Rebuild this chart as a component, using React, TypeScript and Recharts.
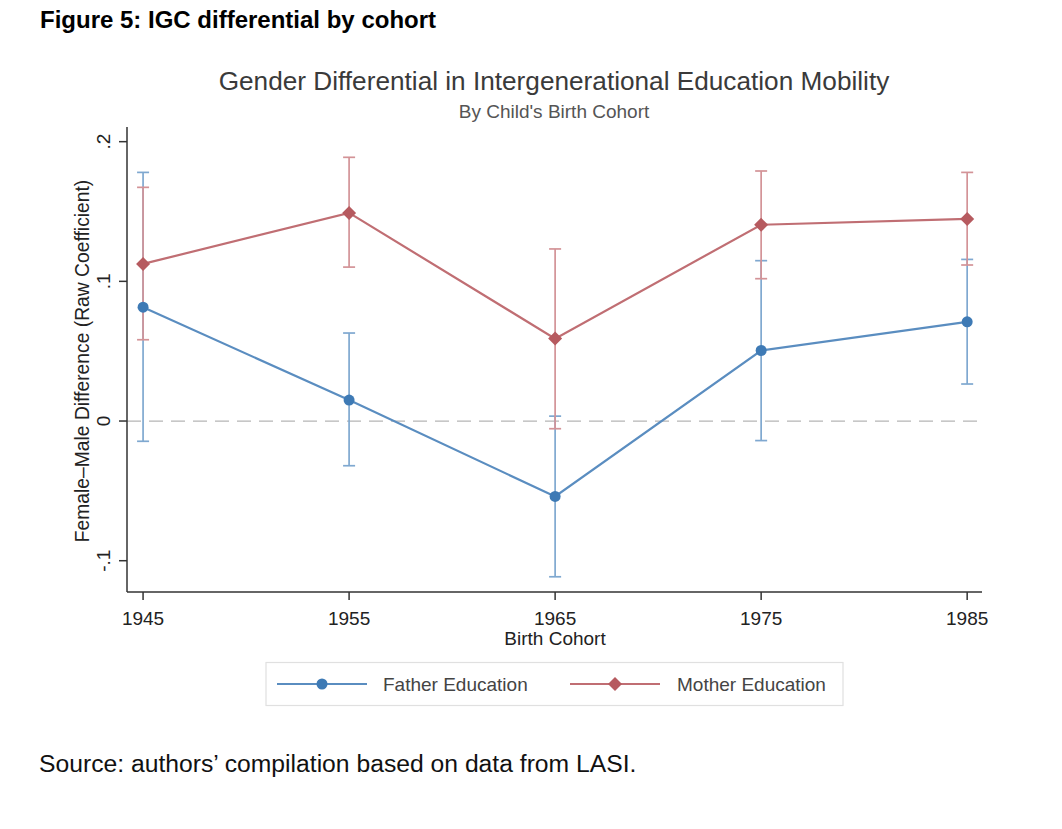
import React from 'react';
import { LineChart, Line, XAxis, YAxis, ErrorBar, ReferenceLine } from 'recharts';

const cohorts = [1945, 1955, 1965, 1975, 1985];
const fatherCoef = [0.0815, 0.015, -0.054, 0.0505, 0.071];
const fatherLow = [-0.0145, -0.032, -0.1115, -0.014, 0.0265];
const fatherHigh = [0.178, 0.063, 0.0035, 0.1148, 0.1157];
const motherCoef = [0.1125, 0.149, 0.059, 0.1405, 0.1447];
const motherLow = [0.0582, 0.1102, -0.0055, 0.1019, 0.1117];
const motherHigh = [0.1673, 0.1888, 0.1232, 0.179, 0.178];
const yTicks = [-0.1, 0, 0.1, 0.2];
const yTickLabels = ['-.1', '0', '.1', '.2'];
const xTickLabels = ['1945', '1955', '1965', '1975', '1985'];
const seriesNames = ['Father Education', 'Mother Education'];

const FONT = '"Liberation Sans", Arial, Helvetica, sans-serif';
const FATHER_LINE = '#5a8dc0';
const FATHER_MARK = '#3e7ab5';
const FATHER_ERR = '#7fa8d0';
const MOTHER_LINE = '#c06e73';
const MOTHER_MARK = '#b65a5f';
const MOTHER_ERR = '#d39397';

const data = cohorts.map((c, i) => ({
  cohort: c,
  father: fatherCoef[i],
  fatherErr: [fatherCoef[i] - fatherLow[i], fatherHigh[i] - fatherCoef[i]],
  mother: motherCoef[i],
  motherErr: [motherCoef[i] - motherLow[i], motherHigh[i] - motherCoef[i]],
}));

const diamondPath = (cx: number, cy: number, r: number) =>
  `M${cx},${cy - r} L${cx + r},${cy} L${cx},${cy + r} L${cx - r},${cy} Z`;

const YTick = (props: any) => {
  const { x, y, payload } = props;
  const idx = yTicks.indexOf(payload.value);
  const label = idx >= 0 ? yTickLabels[idx] : String(payload.value);
  return (
    <text
      x={x}
      y={y}
      transform={`rotate(-90, ${x}, ${y})`}
      textAnchor="middle"
      fontSize={19}
      fontFamily={FONT}
      fill="#222"
    >
      {label}
    </text>
  );
};

const XTick = (props: any) => {
  const { x, y, payload } = props;
  const idx = cohorts.indexOf(payload.value);
  const label = idx >= 0 ? xTickLabels[idx] : String(payload.value);
  return (
    <text x={x} y={y} dy="0.71em" textAnchor="middle" fontSize={19} fontFamily={FONT} fill="#222">
      {label}
    </text>
  );
};

const MotherDot = (props: any) => {
  const { cx, cy, index } = props;
  if (cx == null || cy == null) return <g key={`md-${index}`} />;
  return <path key={`md-${index}`} d={diamondPath(cx, cy, 7)} fill={MOTHER_MARK} />;
};

const FatherDot = (props: any) => {
  const { cx, cy, index } = props;
  if (cx == null || cy == null) return <g key={`fd-${index}`} />;
  return <circle key={`fd-${index}`} cx={cx} cy={cy} r={5.5} fill={FATHER_MARK} />;
};

export default function App() {
  return (
    <div style={{ position: 'absolute', left: 0, top: 0, width: 1062, height: 829, background: '#fff', fontFamily: FONT }}>
      <LineChart
        width={1062}
        height={829}
        data={data}
        margin={{ top: 127, right: 80, bottom: 177, left: 67 }}
      >
        <XAxis
          dataKey="cohort"
          type="number"
          domain={[1944.22, 1985.72]}
          ticks={cohorts}
          allowDataOverflow
          height={60}
          tickSize={8}
          tickMargin={12}
          tick={<XTick />}
          stroke="#333"
          strokeWidth={1.5}
          tickLine={{ stroke: '#333', strokeWidth: 1.5 }}
        />
        <YAxis
          type="number"
          domain={[-0.1224, 0.2105]}
          ticks={yTicks}
          allowDataOverflow
          width={60}
          tickSize={8}
          tickMargin={9}
          tick={<YTick />}
          stroke="#333"
          strokeWidth={1.5}
          tickLine={{ stroke: '#333', strokeWidth: 1.5 }}
        />
        <ReferenceLine y={0} stroke="#b5b5b5" strokeWidth={1.3} strokeDasharray="14 8" />
        <Line
          dataKey="father"
          name={seriesNames[0]}
          stroke={FATHER_LINE}
          strokeWidth={2.2}
          dot={<FatherDot />}
          activeDot={false}
          isAnimationActive={false}
        >
          <ErrorBar dataKey="fatherErr" direction="y" width={6} stroke={FATHER_ERR} strokeWidth={1.7} isAnimationActive={false} />
        </Line>
        <Line
          dataKey="mother"
          name={seriesNames[1]}
          stroke={MOTHER_LINE}
          strokeWidth={2.2}
          dot={<MotherDot />}
          activeDot={false}
          isAnimationActive={false}
        >
          <ErrorBar dataKey="motherErr" direction="y" width={6} stroke={MOTHER_ERR} strokeWidth={1.7} isAnimationActive={false} />
        </Line>
      </LineChart>
      <svg
        width={1062}
        height={829}
        style={{ position: 'absolute', left: 0, top: 0, pointerEvents: 'none' }}
      >
        <text x={40} y={28} fontSize={24} fontWeight="bold" fontFamily={FONT} fill="#000">
          Figure 5: IGC differential by cohort
        </text>
        <text x={554} y={90} textAnchor="middle" fontSize={26.2} fontFamily={FONT} fill="#3a3a3a">
          Gender Differential in Intergenerational Education Mobility
        </text>
        <text x={554} y={118} textAnchor="middle" fontSize={19} fontFamily={FONT} fill="#555">
          By Child's Birth Cohort
        </text>
        <text
          x={89}
          y={361}
          transform="rotate(-90, 89, 361)"
          textAnchor="middle"
          fontSize={19.3}
          fontFamily={FONT}
          fill="#222"
        >
          Female–Male Difference (Raw Coefficient)
        </text>
        <text x={555} y={645} textAnchor="middle" fontSize={19} fontFamily={FONT} fill="#222">
          Birth Cohort
        </text>
        <rect x={266} y={662.5} width={577} height={43} fill="none" stroke="#e0e0e0" strokeWidth={1.2} />
        <line x1={277} y1={684} x2={367} y2={684} stroke={FATHER_LINE} strokeWidth={2.2} />
        <circle cx={322} cy={684} r={5.5} fill={FATHER_MARK} />
        <text x={383} y={691} fontSize={19} fontFamily={FONT} fill="#444">
          {seriesNames[0]}
        </text>
        <line x1={570} y1={684} x2={660} y2={684} stroke={MOTHER_LINE} strokeWidth={2.2} />
        <path d={diamondPath(615, 684, 7)} fill={MOTHER_MARK} />
        <text x={677} y={691} fontSize={19} fontFamily={FONT} fill="#444">
          {seriesNames[1]}
        </text>
        <text x={39} y={772} fontSize={24.7} fontFamily={FONT} fill="#111">
          Source: authors’ compilation based on data from LASI.
        </text>
      </svg>
    </div>
  );
}
